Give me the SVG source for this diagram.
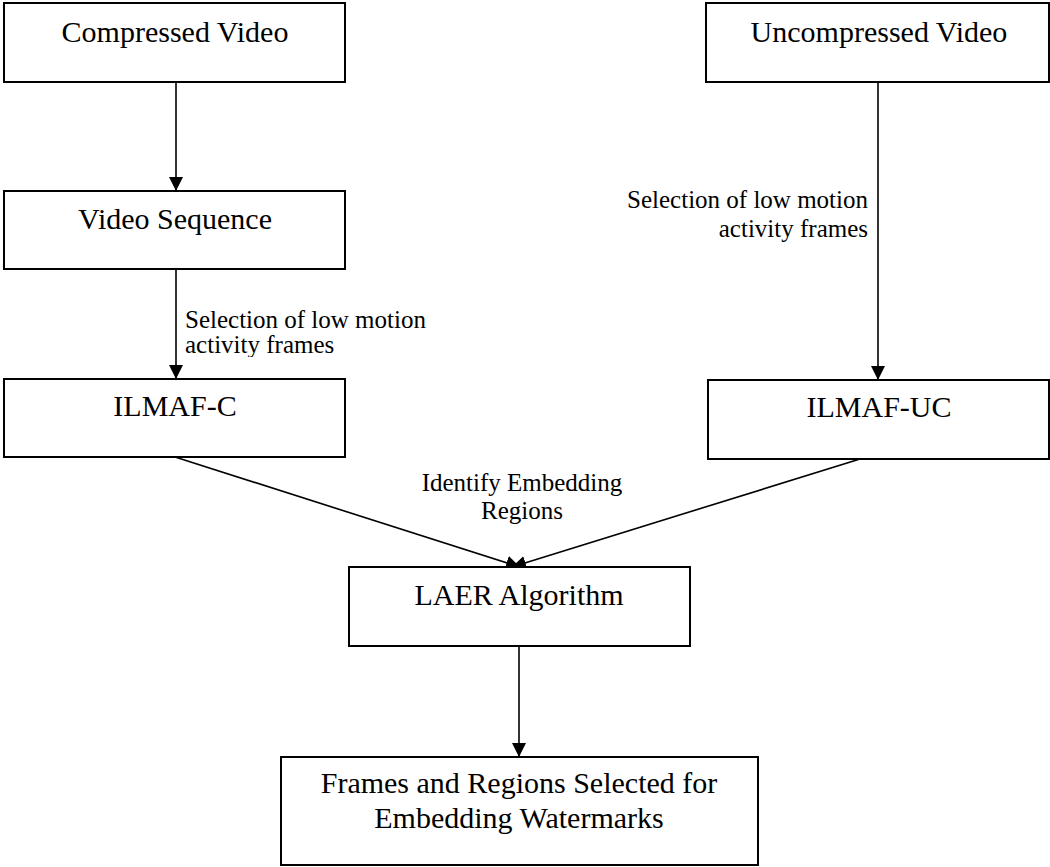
<svg xmlns="http://www.w3.org/2000/svg" width="1050" height="867" viewBox="0 0 1050 867">
<style>
.box{fill:#fff;stroke:#000;stroke-width:2}
.t{font-family:"Liberation Serif","Times New Roman",serif;font-size:30px;fill:#000;text-anchor:middle}
.l{font-family:"Liberation Serif","Times New Roman",serif;font-size:25px;fill:#000}
.c{stroke:#000;stroke-width:1.6;fill:none;marker-end:url(#ah)}
</style>
<defs>
<marker id="ah" markerUnits="userSpaceOnUse" markerWidth="14" markerHeight="14" refX="14" refY="7" orient="auto">
<path d="M0,0 L14,7 L0,14 z" fill="#000"/>
</marker>
<clipPath id="lclip"><rect x="180" y="290" width="260" height="67"/></clipPath>
</defs>
<rect width="1050" height="867" fill="#fff"/>
<g id="connectors">
<line class="c" x1="176" y1="82" x2="176" y2="191"/>
<line class="c" x1="176" y1="269" x2="176" y2="379"/>
<line class="c" x1="878" y1="82" x2="878" y2="380"/>
<line class="c" x1="175" y1="457" x2="520" y2="567"/>
<line class="c" x1="860" y1="459" x2="512" y2="567"/>
<line class="c" x1="519" y1="646" x2="519" y2="757"/>
<g clip-path="url(#lclip)">
<text class="l" x="185" y="328">Selection of low motion</text>
<text class="l" x="185" y="353">activity frames</text>
</g>
<text class="l" x="868" y="208" text-anchor="end">Selection of low motion</text>
<text class="l" x="868" y="237" text-anchor="end">activity frames</text>
<text class="l" x="522" y="491" text-anchor="middle">Identify Embedding</text>
<text class="l" x="522" y="519" text-anchor="middle">Regions</text>
</g>
<g id="compressed">
<rect class="box" x="4" y="3" width="341" height="79"/>
<text class="t" x="175" y="42">Compressed Video</text>
</g>
<g id="uncompressed">
<rect class="box" x="706" y="3" width="343" height="79"/>
<text class="t" x="879" y="42">Uncompressed Video</text>
</g>
<g id="videoseq">
<rect class="box" x="4" y="191" width="341" height="78"/>
<text class="t" x="175" y="229">Video Sequence</text>
</g>
<g id="ilmafc">
<rect class="box" x="4" y="379" width="341" height="78"/>
<text class="t" x="175" y="416">ILMAF-C</text>
</g>
<g id="ilmafuc">
<rect class="box" x="708" y="380" width="341" height="79"/>
<text class="t" x="879" y="417">ILMAF-UC</text>
</g>
<g id="laer">
<rect class="box" x="349" y="567" width="341" height="79"/>
<text class="t" x="519" y="605">LAER Algorithm</text>
</g>
<g id="final">
<rect class="box" x="281" y="757" width="477" height="108"/>
<text class="t" x="519" y="793">Frames and Regions Selected for</text>
<text class="t" x="519" y="828">Embedding Watermarks</text>
</g>
</svg>
